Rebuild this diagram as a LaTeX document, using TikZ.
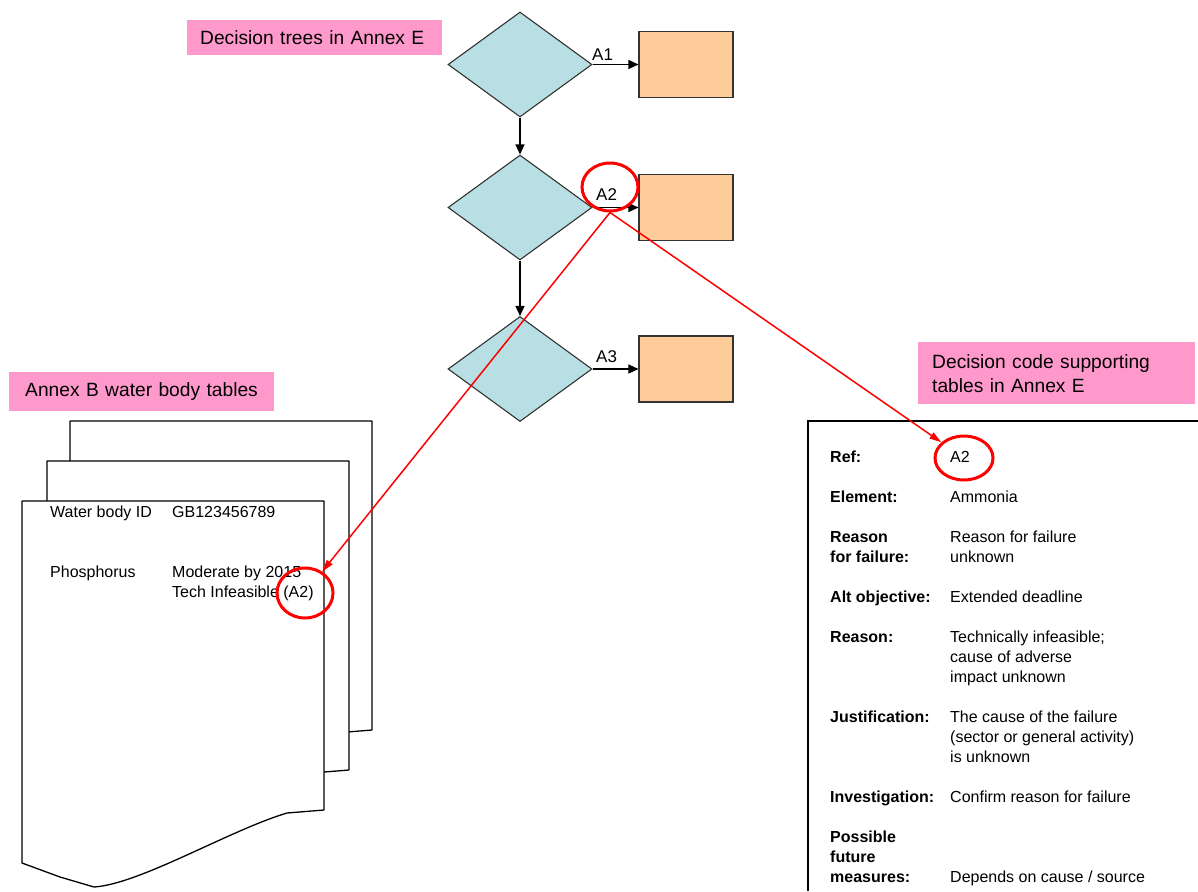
\documentclass[tikz,border=0pt]{standalone}
\usepackage{fontspec}
\setmainfont{Liberation Sans}
\usetikzlibrary{shapes.geometric,arrows.meta}
\definecolor{dia}{RGB}{184,223,227}
\definecolor{peach}{RGB}{253,204,153}
\definecolor{pinkl}{RGB}{255,153,204}
\newcommand\mypagepath{(22,501) -- (324,501) -- (324,810) -- (287,813) .. controls (230,830) and (140,884) .. (94,887) -- (60,877) -- (22,863) -- cycle}
\begin{document}
\begin{tikzpicture}[x=1pt,y=-1pt,
  dec/.style={diamond, draw=black!80, fill=dia, line width=1.1pt, minimum width=144pt, minimum height=105pt, inner sep=0pt},
  obox/.style={rectangle, draw=black!80, fill=peach, line width=1.1pt, minimum width=94pt, minimum height=66pt, inner sep=0pt},
  arr/.style={draw=black, line width=1.2pt, -{Triangle[length=10pt,width=9pt]}},
  lbl/.style={anchor=base west, inner sep=0pt, font=\fontsize{17}{20}\selectfont},
  pinkbox/.style={fill=pinkl, anchor=north west, inner ysep=0pt, align=left, font=\fontsize{19.2}{24}\selectfont},
  page/.style={draw=black, fill=white, line width=1.3pt, line join=round},
  ptxt/.style={anchor=base west, inner sep=0pt, align=left, font=\fontsize{16}{20}\selectfont},
  tlab/.style={anchor=base west, inner sep=0pt, align=left, font=\fontsize{16}{20}\selectfont\bfseries},
  tval/.style={anchor=base west, inner sep=0pt, align=left, font=\fontsize{16}{20}\selectfont},
  ring/.style={ellipse, draw=red, line width=3pt, inner sep=0pt},
  redarr/.style={draw=red, line width=1.5pt, -{Triangle[length=12pt,width=7pt]}},
  tbl/.style={draw=black, line width=1.3pt}
]
\fill[white] (0,0) rectangle (1198,891);
\useasboundingbox (0,0) rectangle (1198,891);

% pages
\foreach \dx/\dy in {48/-80,25/-40,0/0} {
  \begin{scope}[shift={(\dx,\dy)}]
    \filldraw[page] \mypagepath;
  \end{scope}
}
% multi-line nodes: base anchor = last line baseline
\node[ptxt] (t1) at (50,517) {Water body ID};
\node[ptxt] (t2) at (172,517) {GB123456789};
\node[ptxt] (t3) at (50,577) {Phosphorus};
\node[ptxt] (t4) at (172,597) {Moderate by 2015\\Tech Infeasible (A2)};

% decision tree
\node[dec] (d1) at (520,64.5) {};
\node[dec] (d2) at (520,207.5) {};
\node[dec] (d3) at (520,369) {};
\node[obox] (b1) at (686,64.5) {};
\node[obox] (b2) at (686,207.5) {};
\node[obox] (b3) at (686,369) {};
\draw[arr] (d1.east) -- (b1.west);
\draw[arr] (d2.east) -- (b2.west);
\draw[arr] (d3.east) -- (b3.west);
\draw[arr] (d1.south) -- (d2.north);
\draw[arr] (d2.south) -- (d3.north);
\node[lbl] (a1) at (592,60) {A1};
\node[lbl] (a2) at (596,200) {A2};
\node[lbl] (a3) at (596,362) {A3};

% pink labels
\node[pinkbox, inner xsep=13pt, text width=229pt, minimum height=35pt] (p1) at (187,20) {Decision trees in Annex E};
\node[pinkbox, inner xsep=16pt, text width=233pt, minimum height=39pt] (p2) at (9,372) {Annex B water body tables};
\node[pinkbox, inner xsep=14pt, text width=249pt, minimum height=62pt] (p3) at (918,342) {Decision code supporting\\tables in Annex E};

% table
\coordinate (tr) at (1198,421);
\coordinate (tl) at (808,421);
\coordinate (bl) at (808,891);
\draw[tbl] (tr) -- (tl) -- (bl);
\node[tlab] (r1) at (830,462) {Ref:};
\node[tval] (v1) at (950,462) {A2};
\node[tlab] (r2) at (830,502) {Element:};
\node[tval] (v2) at (950,502) {Ammonia};
\node[tlab] (r3) at (830,562) {Reason\\for failure:};
\node[tval] (v3) at (950,562) {Reason for failure\\unknown};
\node[tlab] (r4) at (830,602) {Alt objective:};
\node[tval] (v4) at (950,602) {Extended deadline};
\node[tlab] (r5) at (830,642) {Reason:};
\node[tval] (v5) at (950,682) {Technically infeasible;\\cause of adverse\\impact unknown};
\node[tlab] (r6) at (830,722) {Justification:};
\node[tval] (v6) at (950,762) {The cause of the failure\\(sector or general activity)\\is unknown};
\node[tlab] (r7) at (830,802) {Investigation:};
\node[tval] (v7) at (950,802) {Confirm reason for failure};
\node[tlab] (r8) at (830,882) {Possible\\future\\measures:};
\node[tval] (v8) at (950,882) {Depends on cause / source};

% highlights
\node[ring, minimum width=56pt, minimum height=48pt] (c1) at (610,187) {};
\node[ring, minimum width=56pt, minimum height=50pt] (c2) at (305,593) {};
\node[ring, minimum width=58pt, minimum height=44pt] (c3) at (964,458) {};
\draw[redarr] (c1.south) -- (c2);
\draw[redarr] (c1.south) -- (c3);
\end{tikzpicture}
\end{document}
